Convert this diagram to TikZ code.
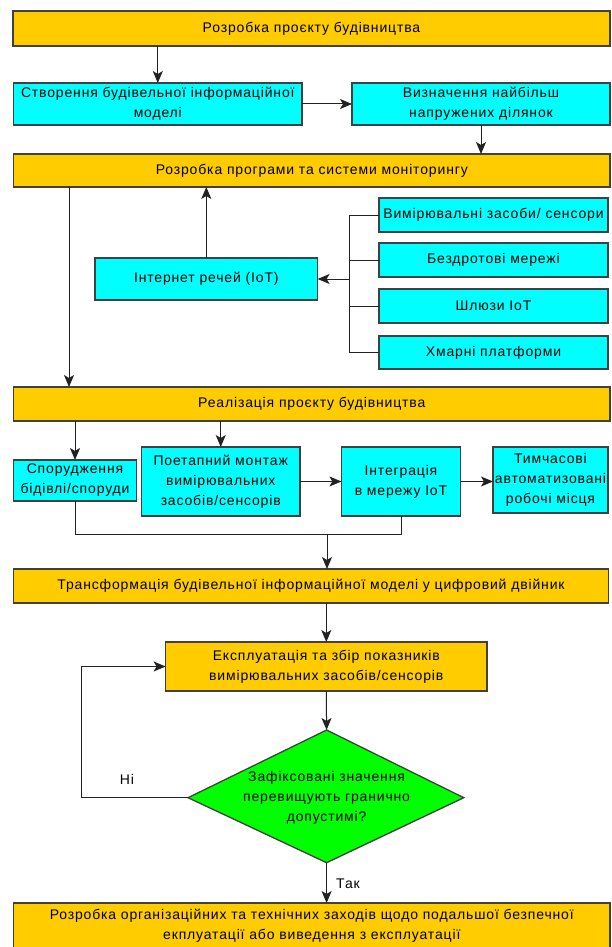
\documentclass[tikz,border=0pt]{standalone}
\usepackage{fontspec}
\setmainfont{Liberation Sans}[LetterSpace=6]
\usetikzlibrary{arrows.meta}
\definecolor{gold}{HTML}{FFCC00}
\definecolor{cyanbox}{HTML}{00FFFF}
\definecolor{greenbox}{HTML}{00FF00}
\definecolor{edge}{HTML}{404040}
\definecolor{wire}{HTML}{222222}
\begin{document}
\begin{tikzpicture}[x=1pt,y=-1pt,
  base/.style={draw=edge,line width=1.3pt,inner sep=0pt,outer sep=0pt,align=center,
    font=\fontsize{14}{20}\selectfont},
  goldbox/.style={base,fill=gold,rectangle},
  cyanrect/.style={base,fill=cyanbox,rectangle},
  decision/.style={draw=edge,line width=1.3pt,fill=greenbox},
  dtext/.style={inner sep=0pt,align=center,font=\fontsize{14}{20}\selectfont},
  arr/.style={draw=wire,line width=1pt,-{Stealth[length=12pt,width=10pt,inset=3pt]}},
  wireline/.style={draw=wire,line width=1pt},
  lbl/.style={inner sep=0pt,font=\fontsize{14}{16}\selectfont}]
\useasboundingbox (0,0) rectangle (611,947);

\node[goldbox,minimum width=597,minimum height=35] (b1) at (311.5,28.5) {Розробка проєкту будівництва};
\node[cyanrect,minimum width=288.4,minimum height=42] (b2) at (157.8,104) {Створення будівельної інформаційної\\моделі};
\node[cyanrect,minimum width=258,minimum height=42] (b3) at (481,104) {Визначення найбільш\\напружених ділянок};
\node[goldbox,minimum width=596.4,minimum height=33] (b4) at (311.8,170.5) {Розробка програми та системи моніторингу};
\node[cyanrect,minimum width=222.6,minimum height=42] (iot) at (206.3,279) {Інтернет речей (IoT)};
\node[cyanrect,minimum width=229,minimum height=34] (ra) at (493.5,215) {Вимірювальні засоби/ сенсори};
\node[cyanrect,minimum width=229,minimum height=34] (rb) at (493.5,260) {Бездротові мережі};
\node[cyanrect,minimum width=229,minimum height=34] (rc) at (493.5,306) {Шлюзи IoT};
\node[cyanrect,minimum width=229,minimum height=33] (rd) at (493.5,352.5) {Хмарні платформи};
\node[goldbox,minimum width=596.4,minimum height=34] (b7) at (311.8,404) {Реалізація проєкту будівництва};
\node[cyanrect,minimum width=122.8,minimum height=41] (sp) at (75,480.5) {Спорудження\\бідівлі/споруди};
\node[cyanrect,minimum width=158.5,minimum height=69] (pm) at (220.75,481.5) {Поетапний монтаж\\вимірювальних\\засобів/сенсорів};
\node[cyanrect,minimum width=119.2,minimum height=69] (in) at (401,481.5) {Інтеграція\\в мережу IoT};
\node[cyanrect,minimum width=115,minimum height=66] (tm) at (550.5,480) {Тимчасові\\автоматизовані\\робочі місця};
\node[goldbox,minimum width=594.4,minimum height=34] (tr) at (311,586) {Трансформація будівельної інформаційної моделі у цифровий двійник};
\node[goldbox,minimum width=321.4,minimum height=49] (ex) at (326.3,666.5) {Експлуатація та збір показників\\вимірювальних засобів/сенсорів};

\coordinate (dt) at (326.6,730);
\coordinate (db) at (326.6,862.7);
\coordinate (dl) at (188,797.7);
\coordinate (dr) at (463.8,797.7);
\draw[decision] (dt) -- (dr) -- (db) -- (dl) -- cycle;
\node[dtext] (dia) at (326.6,797.7) {Зафіксовані значення\\перевищують гранично\\допустимі?};

\node[goldbox,minimum width=596.4,minimum height=46] (fin) at (311.8,926) {Розробка організаційних та технічних заходів щодо подальшої безпечної\\екплуатації або виведення з експлуатації};

\node[lbl] (no) at (127,779) {Ні};
\node[lbl] (yes) at (348,884) {Так};

\coordinate (bus) at (349,279);
\coordinate (m) at (327,534);
\coordinate (loop) at (81,797.7);
\coordinate (lft) at (69,187);

\draw[arr] (b1.south -| b2.north) -- (b2.north);
\draw[arr] (b2.east) -- (b3.west);
\draw[arr] (b3.south) -- (b3.south |- b4.north);
\draw[arr] (lft) -- (lft |- b7.north);
\draw[arr] (iot.north) -- (iot.north |- b4.south);
\draw[wireline] (ra.west) -- (ra.west -| bus) -- (rd.west -| bus) -- (rd.west);
\draw[wireline] (rb.west) -- (rb.west -| bus);
\draw[wireline] (rc.west) -- (rc.west -| bus);
\draw[arr] (bus) -- (iot.east);
\draw[arr] (sp.north |- b7.south) -- (sp.north);
\draw[arr] (pm.north |- b7.south) -- (pm.north);
\draw[arr] (pm.east) -- (in.west);
\draw[arr] (in.east) -- (in.east -| tm.west);
\draw[wireline] (sp.south) -- (sp.south |- m) -| (in.south);
\draw[arr] (m) -- (m |- tr.north);
\draw[arr] (ex.north |- tr.south) -- (ex.north);
\draw[arr] (ex.south) -- (dt);
\draw[arr] (dl) -- (loop) |- (ex.west);
\draw[arr] (db) -- (db |- fin.north);
\end{tikzpicture}
\end{document}
